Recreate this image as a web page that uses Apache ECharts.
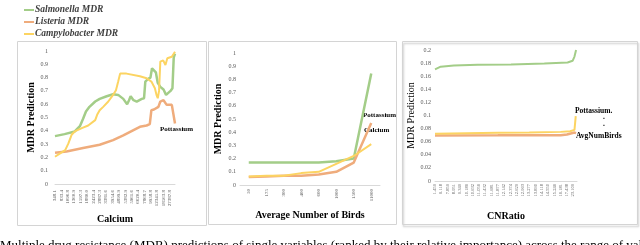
<!DOCTYPE html>
<html><head><meta charset="utf-8">
<script src="https://cdn.jsdelivr.net/npm/echarts@6/dist/echarts.min.js"></script>
<style>html,body{margin:0;padding:0;background:#fff}#c{width:640px;height:245px}</style>
</head><body><div id="c"></div>
<script>
// ---------- data ----------
const seriesNames = ['Salmonella MDR', 'Listeria MDR', 'Campylobacter MDR'];

// Panel 1: Calcium (x in units of tick-label steps)
const caLabels = ['348.1','833.4','1096.8','1360.9','1597.3','1880.0','2423.4','2887.3','3381.6','3954.6','4899.9','5382.9','5961.6','6620.4','7868.7','9958.8','12345.8','18563.8','27387.8'];
const caSalX = [0,1.5,3.1,3.9,4.4,4.85,5.4,6.3,7.0,8.1,9.1,9.9,10.7,11.3,11.6,11.85,12.3,12.8,13.6,13.95,14.15,14.6,14.95,15.2,15.5,15.8,16.1,16.5,17.0,17.4,17.7,18.1,18.4,18.6,18.8];
const caSalY = [0.36,0.375,0.395,0.435,0.49,0.545,0.58,0.62,0.64,0.66,0.675,0.67,0.64,0.60,0.63,0.66,0.63,0.62,0.64,0.645,0.77,0.79,0.80,0.87,0.875,0.84,0.76,0.73,0.71,0.67,0.68,0.70,0.72,0.95,0.98];
const caLisX = [0,1.8,4.4,7.0,9.1,10.7,12.3,13.3,14.35,14.85,15.1,15.5,15.8,16.2,16.5,17.0,17.3,17.5,17.8,18.3,18.5,18.8];
const caLisY = [0.235,0.245,0.27,0.295,0.33,0.365,0.405,0.43,0.44,0.45,0.555,0.56,0.57,0.58,0.62,0.63,0.62,0.595,0.61,0.595,0.58,0.455];
const caCamX = [0,0.8,1.6,2.1,2.6,3.1,4.2,5.2,6.3,6.6,7.0,7.55,8.35,9.1,9.55,9.9,10.2,11.2,13.3,14.35,15.1,15.65,15.9,16.1,16.3,16.5,16.95,17.3,17.6,18.3,18.8];
const caCamY = [0.205,0.23,0.255,0.305,0.37,0.395,0.42,0.44,0.48,0.52,0.555,0.58,0.62,0.67,0.705,0.77,0.83,0.83,0.81,0.795,0.77,0.72,0.67,0.645,0.70,0.92,0.93,0.895,0.945,0.957,0.995];

// Panel 2: Average Number of Birds
const birdCats = ['50','175','300','400','600','1000','1500','11000'];
const birdSal = [0.17,0.17,0.17,0.17,0.17,0.18,0.20,0.845];
const birdLis = [0.06,0.065,0.07,0.07,0.08,0.10,0.17,0.47];
const birdCam = [0.065,0.07,0.07,0.09,0.10,0.16,0.22,0.31];

// Panel 3: CNRatio
const cnLabels = ['1.459','6.118','7.859','8.951','9.349','10.186','10.632','11.056','11.432','11.681','11.877','12.142','12.374','12.629','12.963','13.277','13.890','14.118','14.550','15.246','16.181','17.438','23.109'];
const cnSalX = [0,0.9,3.0,6.8,12.1,17.4,21.1,21.9,22.2,22.45];
const cnSalY = [0.1705,0.1745,0.1765,0.1775,0.178,0.1795,0.181,0.1835,0.19,0.2];
const cnLisX = [0,10,20,21,22.2,22.45];
const cnLisY = [0.0695,0.0697,0.070,0.071,0.074,0.073];
const cnCamX = [0,5,10,15,20,21.5,22.2,22.4];
const cnCamY = [0.072,0.073,0.0735,0.074,0.075,0.076,0.078,0.099];

// ---------- chart ----------
const colors = ['#a3cd88', '#efac7c', '#fcd462'];
const serif = 'Liberation Serif';
const pair = (xs, ys) => xs.map((x, i) => [x, ys[i]]);
const lineStyle = (c, w) => ({ color: c, width: w });

function mkSeries(name, idx, data, ci, w) {
  return { name, type: 'line', xAxisIndex: idx, yAxisIndex: idx, data, showSymbol: false, symbol: 'none',
    color: colors[ci], lineStyle: lineStyle(colors[ci], w), animation: false };
}

const yLab = (m) => ({ fontFamily: serif, fontSize: 6, color: '#595959', margin: m });
const xName = { fontFamily: serif, fontSize: 10, fontWeight: 'bold', color: '#000' };
const yName = { fontFamily: serif, fontSize: 10, fontWeight: 'bold', color: '#000' };
const axisLine = { show: true, lineStyle: { color: '#d9d9d9', width: 1 } };

const option = {
  animation: false,
  legend: {
    data: seriesNames, orient: 'vertical', left: 19, top: 0, itemGap: 2,
    itemWidth: 10, itemHeight: 2, icon: 'rect',
    textStyle: { fontFamily: serif, fontStyle: 'italic', fontWeight: 'bold', fontSize: 9.5, color: '#404040', padding: [0,0,0,-4] }
  },
  grid: [
    { left: 55, top: 51, width: 120, height: 133 },
    { left: 240, top: 53, width: 140, height: 132 },
    { left: 435, top: 50, width: 142, height: 131 }
  ],
  xAxis: [
    { gridIndex: 0, type: 'value', min: 0, max: 18.8, interval: 1,
      axisLine, axisTick: { show: false }, splitLine: { show: false },
      axisLabel: { rotate: 90, fontFamily: serif, fontSize: 5, color: '#595959', margin: 6,
        formatter: v => (Math.abs(v - Math.round(v)) < 1e-6 && caLabels[Math.round(v)]) ? caLabels[Math.round(v)] : '' },
      name: 'Calcium', nameLocation: 'middle', nameGap: 25, nameTextStyle: xName },
    { gridIndex: 1, type: 'category', data: birdCats, boundaryGap: true,
      axisLine, axisTick: { show: false },
      axisLabel: { rotate: 90, fontFamily: serif, fontSize: 5, color: '#595959', margin: 4, interval: 0 },
      name: 'Average Number of Birds', nameLocation: 'middle', nameGap: 25, nameTextStyle: xName },
    { gridIndex: 2, type: 'value', min: 0, max: 22.6, interval: 1,
      axisLine, axisTick: { show: false }, splitLine: { show: false },
      axisLabel: { rotate: 90, fontFamily: serif, fontSize: 4.5, color: '#595959', margin: 3,
        formatter: v => (Math.abs(v - Math.round(v)) < 1e-6 && cnLabels[Math.round(v)]) ? cnLabels[Math.round(v)] : '' },
      name: 'CNRatio', nameLocation: 'middle', nameGap: 30, nameTextStyle: xName }
  ],
  yAxis: [
    { gridIndex: 0, type: 'value', min: 0, max: 1, interval: 0.1, splitLine: { show: false },
      axisLine: { show: false }, axisTick: { show: false }, axisLabel: yLab(7),
      name: 'MDR Prediction', nameLocation: 'middle', nameGap: 17, nameTextStyle: yName },
    { gridIndex: 1, type: 'value', min: 0, max: 1, interval: 0.1, splitLine: { show: false },
      axisLine: { show: false }, axisTick: { show: false }, axisLabel: yLab(4),
      name: 'MDR Prediction', nameLocation: 'middle', nameGap: 17, nameTextStyle: yName },
    { gridIndex: 2, type: 'value', min: 0, max: 0.2, interval: 0.02, splitLine: { show: false },
      axisLine: { show: false }, axisTick: { show: false }, axisLabel: yLab(4),
      name: 'MDR Prediction', nameLocation: 'middle', nameGap: 12,
      nameTextStyle: { fontFamily: serif, fontSize: 10, color: '#000' } }
  ],
  series: [
    mkSeries(seriesNames[0], 0, pair(caSalX, caSalY), 0, 2.5),
    mkSeries(seriesNames[1], 0, pair(caLisX, caLisY), 1, 2.5),
    mkSeries(seriesNames[2], 0, pair(caCamX, caCamY), 2, 2),
    mkSeries(seriesNames[0], 1, birdSal, 0, 2.5),
    mkSeries(seriesNames[1], 1, birdLis, 1, 2.5),
    mkSeries(seriesNames[2], 1, birdCam, 2, 2),
    mkSeries(seriesNames[0], 2, pair(cnSalX, cnSalY), 0, 2),
    mkSeries(seriesNames[1], 2, pair(cnLisX, cnLisY), 1, 2.5),
    mkSeries(seriesNames[2], 2, pair(cnCamX, cnCamY), 2, 2)
  ],
  graphic: [
    { type: 'rect', shape: { x: 17.5, y: 41.5, width: 189, height: 184 }, style: { fill: 'none', stroke: '#d4d4d4', lineWidth: 1 }, silent: true },
    { type: 'rect', shape: { x: 208.5, y: 41.5, width: 188, height: 183 }, style: { fill: 'none', stroke: '#d4d4d4', lineWidth: 1 }, silent: true },
    { type: 'rect', shape: { x: 402.5, y: 41.5, width: 235, height: 183 }, style: { fill: 'none', stroke: '#d4d4d4', lineWidth: 1, shadowBlur: 2, shadowOffsetX: 1, shadowOffsetY: 2, shadowColor: 'rgba(0,0,0,0.25)' }, silent: true },
    { type: 'text', left: 160, top: 126, style: { text: 'Pottassium', fontFamily: serif, fontSize: 7, fontWeight: 'bold', fill: '#000' }, silent: true },
    { type: 'text', left: 363, top: 112, style: { text: 'Pottassium', fontFamily: serif, fontSize: 7, fontWeight: 'bold', fill: '#000' }, silent: true },
    { type: 'text', left: 364, top: 127, style: { text: 'Calcium', fontFamily: serif, fontSize: 7, fontWeight: 'bold', fill: '#000' }, silent: true },
    { type: 'text', left: 575, top: 107, style: { text: 'Pottassium.', fontFamily: serif, fontSize: 7.5, fontWeight: 'bold', fill: '#000' }, silent: true },
    { type: 'text', left: 603, top: 113, style: { text: '.', fontFamily: serif, fontSize: 7.5, fontWeight: 'bold', fill: '#000' }, silent: true },
    { type: 'text', left: 603, top: 120, style: { text: '.', fontFamily: serif, fontSize: 7.5, fontWeight: 'bold', fill: '#000' }, silent: true },
    { type: 'text', left: 576, top: 132, style: { text: 'AvgNumBirds', fontFamily: serif, fontSize: 7.5, fontWeight: 'bold', fill: '#000' }, silent: true },
    { type: 'text', left: 0, top: 239, style: { text: 'Multiple drug resistance (MDR) predictions of single variables (ranked by their relative importance) across the range of values', fontFamily: serif, fontSize: 13, fill: '#000' }, silent: true }
  ]
};

const chart = echarts.init(document.getElementById('c'), null, { renderer: 'canvas' });
chart.setOption(option);
</script>
</body></html>
